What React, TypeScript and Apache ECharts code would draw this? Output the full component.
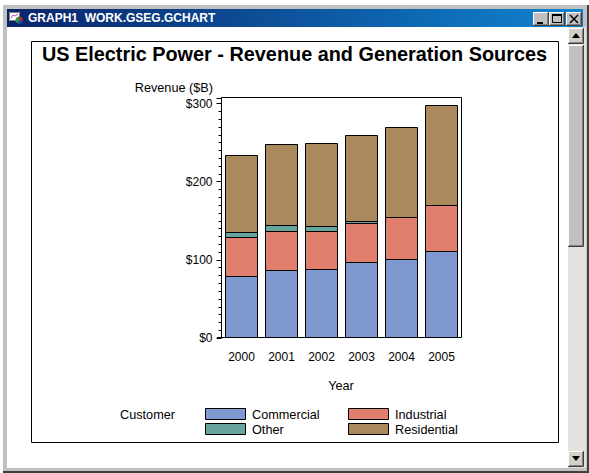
import React, { useEffect, useRef } from "react";
import * as echarts from "echarts";

const years = ["2000", "2001", "2002", "2003", "2004", "2005"];
const commercial = [79.36, 87.04, 88.32, 97.28, 101.12, 111.36];
const industrial = [49.92, 49.92, 48.64, 49.92, 53.76, 58.88];
const other = [6.4, 7.68, 6.4, 2.56, 0, 0];
const residential = [98.56, 103.68, 106.24, 110.08, 115.2, 128];
const yTicks = [0, 100, 200, 300];

const FONT = "'Liberation Sans', Arial, sans-serif";
const COLORS = { Commercial: "#7f98cf", Industrial: "#e07f6e", Other: "#68a59d", Residential: "#aa895c" };

function rect(x: number, y: number, w: number, h: number, fill: string, z = 1) {
  return { type: "rect", z, silent: true, shape: { x, y, width: w, height: h }, style: { fill, lineWidth: 0 } };
}
function label(x: number, y: number, text: string, size = 12.7, weight = "normal", align = "left", fill = "#000") {
  return { type: "text", z: 20, silent: true, x, y, style: { text, fontSize: size, fontWeight: weight, fontFamily: FONT, fill, align, verticalAlign: "middle" } };
}
function button(x: number, y: number, w: number, h: number, face = "#c0c0c0") {
  return [
    rect(x, y, w, h, face, 3),
    { type: "polyline", z: 4, silent: true, shape: { points: [[x + 0.5, y + h], [x + 0.5, y + 0.5], [x + w, y + 0.5]] }, style: { stroke: "#ffffff", lineWidth: 1, fill: "none" } },
    { type: "polyline", z: 4, silent: true, shape: { points: [[x, y + h - 0.5], [x + w - 0.5, y + h - 0.5], [x + w - 0.5, y]] }, style: { stroke: "#404040", lineWidth: 1, fill: "none" } },
    { type: "polyline", z: 4, silent: true, shape: { points: [[x + 1, y + h - 1.5], [x + w - 1.5, y + h - 1.5], [x + w - 1.5, y + 1]] }, style: { stroke: "#808080", lineWidth: 1, fill: "none" } },
  ];
}

function chrome() {
  const els: any[] = [
    rect(0, 0, 589, 473, "#ffffff", 0),
    rect(3, 5, 586, 4, "#c0c0c0", 1),
    rect(3, 5, 4, 468, "#c0c0c0", 1),
    rect(583, 5, 6, 468, "#c0c0c0", 1),
    rect(3, 468, 586, 5, "#c0c0c0", 1),
    rect(3, 471, 586, 2, "#404040", 1),
    rect(587, 5, 2, 468, "#404040", 1),
    {
      type: "rect", z: 2, silent: true, shape: { x: 7, y: 9, width: 576, height: 18 },
      style: { fill: new echarts.graphic.LinearGradient(0, 0, 1, 0, [{ offset: 0, color: "#0a246a" }, { offset: 1, color: "#1084d0" }]) },
    },
    label(28, 18, "GRAPH1  WORK.GSEG.GCHART", 12, "bold", "left", "#ffffff"),
    // title-bar icon
    rect(9, 12, 11, 9, "#ffffff", 3),
    { type: "rect", z: 4, silent: true, shape: { x: 9.5, y: 12.5, width: 10, height: 8 }, style: { fill: "none", stroke: "#808080", lineWidth: 1 } },
    { type: "polyline", z: 4, silent: true, shape: { points: [[11, 18], [13, 15], [15, 16], [18, 14]] }, style: { fill: "none", stroke: "#d040c0", lineWidth: 1 } },
    { type: "circle", z: 5, silent: true, shape: { cx: 19, cy: 20, r: 3.5 }, style: { fill: "#20a040" } },
    { type: "sector", z: 6, silent: true, shape: { cx: 19, cy: 20, r: 3.5, startAngle: -1.57, endAngle: 0.5 }, style: { fill: "#d02020" } },
    { type: "sector", z: 6, silent: true, shape: { cx: 19, cy: 20, r: 3.5, startAngle: 0.5, endAngle: 2 }, style: { fill: "#2040d0" } },
    // scrollbar track
    rect(568, 27, 18, 441, "#e4e2de", 2),
    ...button(568, 28, 16, 16, "#d4d0c8"),
    ...button(568, 45, 16, 202),
    ...button(568, 451, 16, 16, "#d4d0c8"),
    { type: "polygon", z: 6, silent: true, shape: { points: [[576, 33], [572, 38], [580, 38]] }, style: { fill: "#000" } },
    { type: "polygon", z: 6, silent: true, shape: { points: [[576, 461], [572, 456], [580, 456]] }, style: { fill: "#000" } },
    // window buttons
    ...button(533, 12, 16, 14),
    ...button(549, 12, 16, 14),
    ...button(566, 12, 16, 14),
    rect(537, 22, 6, 2, "#000", 6),
    { type: "rect", z: 6, silent: true, shape: { x: 552.5, y: 14.5, width: 9, height: 8 }, style: { fill: "none", stroke: "#000", lineWidth: 1 } },
    rect(552, 14, 10, 2, "#000", 6),
    { type: "line", z: 6, silent: true, shape: { x1: 570, y1: 15, x2: 578, y2: 23 }, style: { stroke: "#000", lineWidth: 1.5 } },
    { type: "line", z: 6, silent: true, shape: { x1: 578, y1: 15, x2: 570, y2: 23 }, style: { stroke: "#000", lineWidth: 1.5 } },
    // graph frame
    { type: "rect", z: 2, silent: true, shape: { x: 31.5, y: 41.5, width: 527, height: 401 }, style: { fill: "none", stroke: "#000", lineWidth: 1 } },
    label(294.5, 53.5, "US Electric Power - Revenue and Generation Sources", 19.85, "bold", "center"),
    label(213, 88, "Revenue ($B)", 12.7, "normal", "right"),
    label(341, 386, "Year", 12.7, "normal", "center"),
    label(120, 415, "Customer"),
  ];
  const legend: [string, string, number, number][] = [
    ["Commercial", COLORS.Commercial, 205, 408],
    ["Industrial", COLORS.Industrial, 348, 408],
    ["Other", COLORS.Other, 205, 423],
    ["Residential", COLORS.Residential, 348, 423],
  ];
  for (const [name, color, x, y] of legend) {
    els.push({ type: "rect", z: 5, silent: true, shape: { x: x + 0.5, y: y + 0.5, width: 40, height: 11 }, style: { fill: color, stroke: "#000", lineWidth: 1 } });
    els.push(label(x + 47, y + 6.5, name));
  }
  return els;
}

const sum = (...rows: number[][]) => years.map((_, i) => rows.reduce((t, r) => t + r[i], 0));

export default function App() {
  const ref = useRef<HTMLDivElement>(null);
  useEffect(() => {
    document.body.style.margin = "0";
    const chart = echarts.init(ref.current!, undefined, { renderer: "svg" });
    // ECharts insets a bar's border, so stacked bars get doubled lines; the segments
    // are drawn as overlapping bars of running totals, tallest first, to keep single lines.
    const series = (name: keyof typeof COLORS, data: number[]) => ({
      name,
      type: "bar",
      barWidth: 33,
      barGap: "-100%",
      z: 5,
      data,
      itemStyle: { color: COLORS[name], borderColor: "#000", borderWidth: 1 },
    });
    chart.setOption({
      animation: false,
      backgroundColor: "#fff",
      grid: { left: 221.5, top: 98, width: 240, height: 240, containLabel: false },
      xAxis: {
        type: "category",
        data: years,
        axisTick: { show: false },
        axisLine: { show: false },
        axisLabel: { color: "#000", fontFamily: FONT, fontSize: 12, margin: 13 },
      },
      yAxis: {
        type: "value",
        min: 0,
        max: 307.2,
        interval: 100,
        splitLine: { show: false },
        axisLine: { show: true, lineStyle: { color: "#000", width: 1 } },
        axisTick: { show: true, length: 5, lineStyle: { color: "#000" } },
        minorTick: { show: true, splitNumber: 10, length: 3, lineStyle: { color: "#000" } },
        axisLabel: {
          color: "#000", fontFamily: FONT, fontSize: 12, margin: 9, padding: [0, 0, 2, 0],
          formatter: (v: number) => (yTicks.includes(v) ? "$" + v : ""),
        },
      },
      graphic: { elements: [
        ...chrome(),
        { type: "polygon", z: 8, silent: true, shape: { points: [[221.5, 97.5], [461.5, 97.5], [461.5, 337.5], [217, 337.5], [221.5, 337.5]] }, style: { fill: "none", stroke: "#000", lineWidth: 1 } },
      ] },
      series: [
        series("Residential", sum(commercial, industrial, other, residential)),
        series("Other", sum(commercial, industrial, other)),
        series("Industrial", sum(commercial, industrial)),
        series("Commercial", commercial),
      ],
    });
    return () => chart.dispose();
  }, []);
  return <div ref={ref} style={{ width: 589, height: 473 }} />;
}
